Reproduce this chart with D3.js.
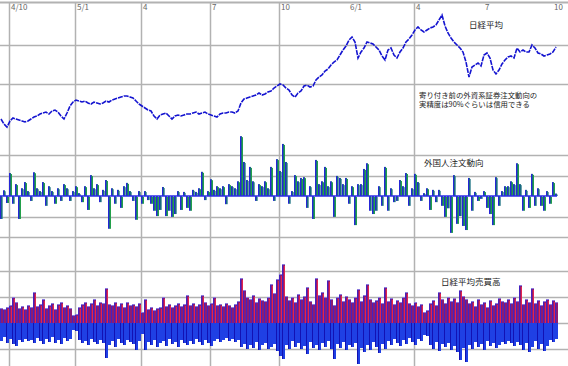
<!DOCTYPE html>
<html><head><meta charset="utf-8">
<script src="https://cdn.jsdelivr.net/npm/d3@7"></script>
<style>html,body{margin:0;padding:0;background:#fff;overflow:hidden}svg{display:block}</style>
</head><body>
<svg id="c" width="568" height="366"></svg>
<script>
// 日経平均 (closing values, one per bar)
const price = [12204,11947,11793,12101,12255,12204,12152,12101,12050,12101,
12204,12306,12358,12460,12512,12563,12460,12614,12666,12563,
12358,12204,12512,12871,13076,13178,13127,13076,13127,13025,
12973,13076,13025,12973,13025,13127,13076,13178,13230,13281,
13332,13384,13384,13332,13281,13127,12973,12871,12768,12666,
12614,12358,12204,12409,12460,12512,12358,12204,12358,12409,
12358,12409,12460,12460,12512,12563,12460,12512,12563,12460,
12409,12358,12306,12460,12512,12512,12563,12563,12512,12614,
13025,13230,13281,13332,13384,13435,13538,13435,13486,13589,
13640,13794,13897,14000,13948,13794,13692,13435,13332,13538,
13640,13897,13948,13846,13897,14205,14358,14461,14666,14769,
14974,15128,15231,15487,15744,15949,16257,16410,16154,15333,
15641,15846,16154,16103,16051,15897,15744,15436,15231,15744,
15846,15487,15333,15641,15846,16154,16308,16513,16770,16923,
16770,16667,16770,16872,16923,17026,17283,17539,16975,16616,
16359,16154,16000,15846,15641,15128,14358,14871,14974,15077,
14923,15487,15590,15333,14718,14512,14718,15025,15231,15384,
15436,15333,15846,15641,15744,15641,15641,16000,15846,15590,
15538,15436,15487,15538,15641,15897];

// 外国人注文動向 (net, 万株)
const foreign = [-560,140,-170,560,-190,290,-560,190,340,120,
-120,580,190,120,340,-240,240,120,-190,190,
-120,290,190,-120,120,240,70,-150,240,-340,
510,190,290,-150,150,390,-800,190,-190,150,
-290,240,320,120,-120,-580,120,-190,120,-100,
-190,-360,-490,-340,220,-490,-360,-510,-440,120,
-340,100,-290,-360,150,100,190,590,-100,120,
410,150,240,190,240,-200,290,240,190,360,
1460,830,390,710,360,-120,290,240,360,190,
710,-120,900,610,1270,830,-190,120,510,360,
440,460,-290,240,-560,880,290,360,710,240,
360,-510,490,440,290,440,-190,240,-710,290,
290,660,800,-360,-440,-360,240,-240,710,-360,
190,-150,-120,390,240,560,-240,190,540,340,
-120,70,190,-340,150,-150,150,-240,-510,-300,
-900,510,-680,-490,-730,-830,440,-360,100,-120,
-70,120,-290,-440,-710,460,-240,120,240,240,
360,290,800,290,-360,150,-290,540,-240,190,
-240,-360,120,-190,340,60];

// 日経平均売買高 (upper bars)
const volUp = [150,140,160,180,260,210,150,170,140,180,
160,310,170,190,240,150,180,200,140,190,
210,160,180,150,80,90,160,190,210,170,
200,240,180,210,200,350,190,180,210,170,
200,160,210,180,190,170,200,110,240,140,
160,130,150,160,260,170,190,160,180,200,
170,190,280,180,200,170,190,280,210,180,
200,260,180,190,170,200,180,160,190,220,
450,330,260,240,280,210,250,230,220,260,
390,300,440,490,590,270,230,260,210,290,
240,270,360,220,190,450,280,310,260,430,
240,180,260,290,220,270,240,210,260,340,
220,280,390,240,210,230,260,200,360,220,
250,190,230,210,260,310,200,180,210,170,
190,110,130,200,230,180,310,240,200,260,
220,250,210,330,270,240,200,220,170,240,
190,210,160,230,180,200,250,220,210,240,
200,260,220,380,190,240,210,350,200,230,
180,220,240,190,230,210];

// 日経平均売買高 (lower bars)
const volDown = [180,140,200,160,210,230,170,190,160,180,
170,200,150,180,210,160,190,140,200,170,
210,150,180,160,70,80,170,200,180,220,
160,190,210,170,200,350,220,180,240,160,
200,220,170,190,210,270,180,110,270,190,
220,170,240,200,180,230,160,210,190,240,
170,200,220,180,210,160,190,220,170,200,
230,180,160,190,170,150,180,160,190,170,
240,210,260,220,250,190,270,220,200,260,
240,210,280,330,360,220,260,180,240,200,
260,230,310,190,250,220,270,200,240,180,
260,360,210,250,190,270,220,240,200,410,
250,290,220,270,190,240,300,210,260,180,
220,160,200,230,170,210,150,190,220,160,
180,120,130,220,260,190,280,210,240,200,
270,230,290,370,250,390,220,260,190,240,
210,270,180,230,200,250,220,190,210,180,
200,230,190,220,270,200,290,240,180,260,
210,280,230,170,190,160];

// month ticks: bar index of first trading day, label, whether a grid line is drawn
const tickIdx = [3,25,47,70,93,116,138,161,184];
const tickLabels = ["4/10","5/1","4","7","10","6/1","4","7","10"];
const tickGrid = [true,true,true,true,true,false,true,false,false];

const priceGrid = [14000,16000];
const foreignGrid = [-1000,-500,0,500,1000];
const volGrid = [-260,0,260,520];

const titles = ["日経平均","外国人注文動向","日経平均売買高"];
const note = ["寄り付き前の外資系証券注文動向の","実精度は90%ぐらいは信用できる"];

const W = 568, H = 366;
const svg = d3.select("#c");
svg.append("rect").attr("width",W).attr("height",H).attr("fill","#fff");

const N = price.length;
const x = d3.scaleLinear().domain([0, N-1]).range([1, 556]);
const yP = d3.scaleLinear().domain([14000,16000]).range([84,45]);
const yF = d3.scaleLinear().domain([0,1000]).range([196,155]);
const yV = d3.scaleLinear().domain([0,260]).range([323,297]);

const gridColor = "#b2b2b2";
const g = svg.append("g");
// top border
g.append("line").attr("x1",0).attr("x2",W).attr("y1",2.5).attr("y2",2.5)
  .attr("stroke",gridColor).attr("stroke-width",2);
// horizontal grid lines
const hy = [].concat(priceGrid.map(yP), foreignGrid.filter(v=>v!==0).map(yF), volGrid.map(yV));
g.selectAll("line.h").data(hy).join("line").attr("class","h")
  .attr("x1",0).attr("x2",W).attr("y1",d=>Math.round(d)+0.5).attr("y2",d=>Math.round(d)+0.5)
  .attr("stroke",gridColor).attr("stroke-width",1.5);
// vertical grid lines
g.selectAll("line.v").data(tickIdx.filter((t,i)=>tickGrid[i])).join("line").attr("class","v")
  .attr("x1",d=>Math.round(x(d))-0.5).attr("x2",d=>Math.round(x(d))-0.5)
  .attr("y1",3).attr("y2",H)
  .attr("stroke",gridColor).attr("stroke-width",1.5);

// tick labels
svg.selectAll("text.tk").data(tickIdx).join("text").attr("class","tk")
  .attr("x",d=>Math.round(x(d))+1).attr("y",10)
  .attr("font-family","Noto Sans CJK JP, DejaVu Sans, sans-serif")
  .attr("font-size",8).attr("fill","#666")
  .text((d,i)=>tickLabels[i]);

// foreign bars
const fb = svg.append("g");
foreign.forEach((v,i)=>{
  const x0 = Math.round(x(i)) - 1;
  const y0 = Math.min(yF(v), yF(0)), h = Math.abs(yF(v)-yF(0));
  fb.append("rect").attr("x",x0).attr("y",y0).attr("width",1).attr("height",h).attr("fill","#2626d6");
  fb.append("rect").attr("x",x0+1).attr("y",y0).attr("width",1).attr("height",h).attr("fill","#1b6a80");
  const up = i>0 && Math.abs(v) > Math.abs(foreign[i-1]);
  fb.append("rect").attr("x",x0+2).attr("y",y0+1).attr("width",1).attr("height",Math.max(0,h-1))
    .attr("fill", up ? "#22a04a" : "#2a7a8a").attr("opacity", up ? 1 : 0.7);
});
svg.append("line").attr("x1",0).attr("x2",557).attr("y1",yF(0)).attr("y2",yF(0))
  .attr("stroke","#2c2ce6").attr("stroke-width",1.5);

// volume bars
const vb = svg.append("g");
volUp.forEach((v,i)=>{
  const x0 = Math.round(x(i)) - 1;
  vb.append("rect").attr("x",x0).attr("y",yV(v)).attr("width",3).attr("height",yV(0)-yV(v)).attr("fill","#8a1c74");
  vb.append("rect").attr("x",x0).attr("y",yV(v)).attr("width",1).attr("height",yV(0)-yV(v)).attr("fill","#4422c0");
  if (i>0 && v > volUp[i-1])
    vb.append("rect").attr("x",x0+2).attr("y",yV(v)+2).attr("width",1).attr("height",yV(0)-yV(v)-2).attr("fill","#e4244e");
  vb.append("rect").attr("x",x0).attr("y",yV(v)).attr("width",3).attr("height",1).attr("fill","#8a78dc");
});
volDown.forEach((v,i)=>{
  const x0 = Math.round(x(i)) - 1;
  vb.append("rect").attr("x",x0).attr("y",yV(0)).attr("width",3).attr("height",yV(-v)-yV(0)).attr("fill","#1f40e4");
  if (i>0 && v > volDown[i-1])
    vb.append("rect").attr("x",x0).attr("y",yV(0)).attr("width",1).attr("height",yV(-v)-yV(0)).attr("fill","#1212b4");
});

// price line
const line = d3.line().x((d,i)=>x(i)).y(d=>yP(d));
svg.append("path").datum(price).attr("d",line).attr("fill","none")
  .attr("stroke","#1414d0").attr("stroke-width",1.6).attr("stroke-dasharray","5,1");

// titles and note
const font = "Noto Sans CJK JP, sans-serif";
const tpos = [[469,28],[424,166],[441,285]];
titles.forEach((t,i)=>{
  svg.append("text").attr("x",tpos[i][0]).attr("y",tpos[i][1]).attr("font-family",font)
    .attr("font-size",8.5).attr("fill","#222").text(t);
});
note.forEach((t,i)=>{
  svg.append("text").attr("x",419).attr("y",97.5+i*9.5).attr("font-family",font)
    .attr("font-size",7.4).attr("fill","#222").text(t);
});
</script>
</body></html>
